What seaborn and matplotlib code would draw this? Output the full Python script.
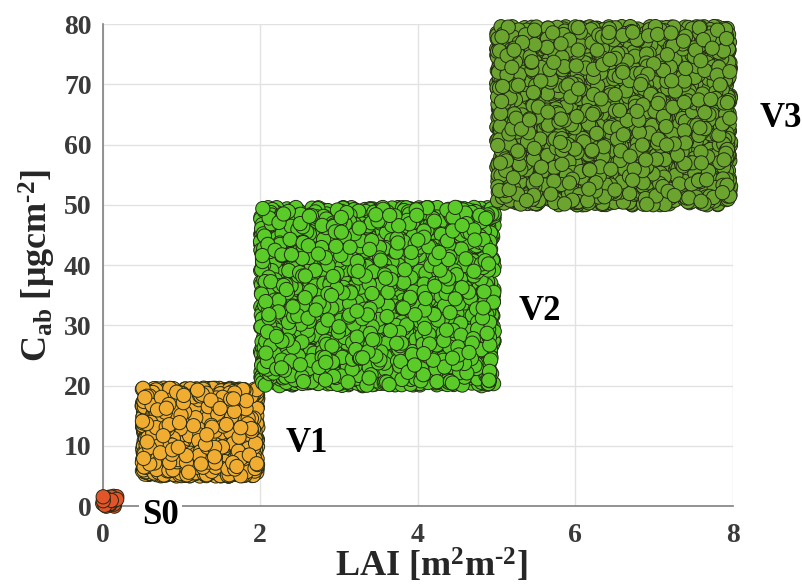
import numpy as np
import pandas as pd
import matplotlib
matplotlib.use("Agg")
import matplotlib.pyplot as plt
import seaborn as sns

# Vegetation classes and the LAI / Cab ranges each one is sampled from
classes = ["S0", "V1", "V2", "V3"]
lai_low = [0.0, 0.5, 2.0, 5.0]
lai_high = [0.18, 1.97, 4.97, 7.97]
cab_low = [0.0, 5.0, 20.0, 50.0]
cab_high = [1.8, 19.6, 49.6, 79.6]
n_samples = [25, 2000, 4000, 4000]
colors = ["#E2552B", "#F1AD32", "#5ACB28", "#6BA52F"]

# Label anchor positions (data units)
label_lai = [0.5, 2.32, 5.28, 8.34]
label_cab = [-1.6, 10.4, 32.3, 64.3]

sns.set_theme(style="whitegrid")
plt.rcParams["font.family"] = ["Liberation Serif", "DejaVu Serif"]
plt.rcParams["font.weight"] = "bold"
plt.rcParams["mathtext.fontset"] = "custom"
plt.rcParams["mathtext.rm"] = "Liberation Serif:bold"
plt.rcParams["mathtext.it"] = "Liberation Serif:bold"
plt.rcParams["mathtext.bf"] = "Liberation Serif:bold"

# Uniform sampling of each class's parameter box
rng = np.random.default_rng(7)
frames = []
for c, x0, x1, y0, y1, n in zip(classes, lai_low, lai_high, cab_low, cab_high, n_samples):
    frames.append(pd.DataFrame({
        "LAI": rng.uniform(x0, x1, n),
        "Cab": rng.uniform(y0, y1, n),
        "cls": c,
    }))
df = pd.concat(frames, ignore_index=True)

fig = plt.figure(figsize=(8.02, 5.88), dpi=100)
ax = fig.add_axes([0.128, 0.139, 0.786, 0.820])

sns.scatterplot(data=df, x="LAI", y="Cab", hue="cls", hue_order=classes,
                palette=colors, s=105, edgecolor="#222a14", linewidth=0.7,
                legend=False, ax=ax, clip_on=False, zorder=3)

ax.set_xlim(0, 8)
ax.set_ylim(0, 80)
ax.set_xticks([0, 2, 4, 6, 8])
ax.set_yticks(range(0, 81, 10))
ax.grid(True, color="#e2e2e2", linewidth=1.0)
ax.set_axisbelow(True)
for side in ["top", "right"]:
    ax.spines[side].set_visible(False)
for side in ["left", "bottom"]:
    ax.spines[side].set_color("#808080")
    ax.spines[side].set_linewidth(1.2)
ax.tick_params(axis="both", direction="in", length=4, width=1, color="#808080",
               labelsize=20, labelcolor="#3a3a3a")
ax.tick_params(axis="x", pad=12)
ax.tick_params(axis="y", pad=8)
for lbl in ax.get_xticklabels() + ax.get_yticklabels():
    lbl.set_fontweight("bold")

ax.set_xlabel("LAI [m$^{2}$m$^{\u20102}$]", fontsize=26, fontweight="bold")
ax.xaxis.set_label_coords(0.522, -0.083)
ax.set_ylabel("C$_{ab}$ [μgcm$^{\u20102}$]", fontsize=26, fontweight="bold", labelpad=4)

for c, lx, ly in zip(classes, label_lai, label_cab):
    t = ax.text(lx, ly, c, fontsize=25, fontweight="bold", color="black",
                ha="left", va="center", zorder=5, clip_on=False)
    if c == "S0":
        t.set_bbox(dict(facecolor="white", edgecolor="none", pad=2))

fig.savefig("out.png", dpi=100)
